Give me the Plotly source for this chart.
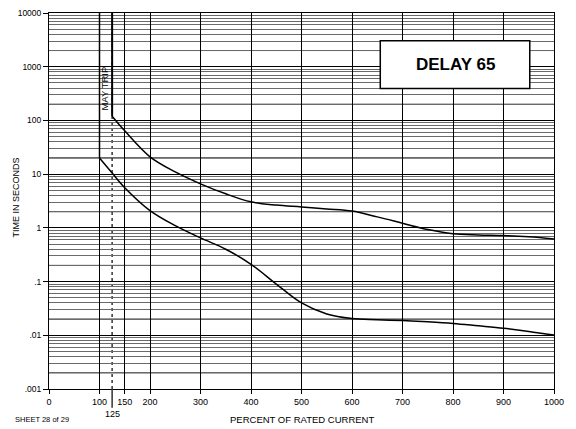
import plotly.graph_objects as go

# ---- data ----
upper_x = [125, 150, 200, 250, 300, 350, 400, 450, 500, 550, 600, 650, 700, 750, 800, 850, 900, 950, 1000]
upper_y = [120, 64, 21, 11, 6.6, 4.3, 3.05, 2.65, 2.45, 2.25, 2.05, 1.6, 1.22, 0.93, 0.78, 0.74, 0.72, 0.68, 0.62]
lower_x = [100, 125, 150, 200, 250, 300, 350, 400, 450, 500, 550, 600, 650, 700, 750, 800, 850, 900, 950, 1000]
lower_y = [20, 10.5, 5.6, 2.1, 1.1, 0.65, 0.4, 0.21, 0.09, 0.04, 0.025, 0.0205, 0.0195, 0.0188, 0.0178, 0.0166, 0.015, 0.0135, 0.0118, 0.0101]

x_tickvals = [0, 100, 150, 200, 300, 400, 500, 600, 700, 800, 900, 1000]
x_ticktext = ["0", "100", "150", "200", "300", "400", "500", "600", "700", "800", "900", "1000"]
special_x = 125
y_tickvals = [0.001, 0.01, 0.1, 1, 10, 100, 1000, 10000]
y_ticktext = [".001", ".01", ".1", "1", "10", "100", "1000", "10000"]
y_minor = [m * d for d in [0.001, 0.01, 0.1, 1, 10, 100, 1000] for m in range(2, 10)]
y_bold = [2 * d for d in [0.001, 0.01, 0.1, 1, 10, 100, 1000]]
y_top = 10000

FONT = "Liberation Sans, Arial, sans-serif"

fig = go.Figure()

# vertical portions of the curves
fig.add_trace(go.Scatter(x=[upper_x[0], upper_x[0]], y=[y_top, upper_y[0]], mode="lines",
                         line=dict(color="black", width=2), showlegend=False, hoverinfo="skip"))
fig.add_trace(go.Scatter(x=[lower_x[0], lower_x[0]], y=[y_top, lower_y[0]], mode="lines",
                         line=dict(color="black", width=1.5), showlegend=False, hoverinfo="skip"))
# curves
fig.add_trace(go.Scatter(x=upper_x, y=upper_y, mode="lines",
                         line=dict(color="black", width=1.5, shape="spline", smoothing=1),
                         showlegend=False))
fig.add_trace(go.Scatter(x=lower_x, y=lower_y, mode="lines",
                         line=dict(color="black", width=1.5, shape="spline", smoothing=1),
                         showlegend=False))

shapes = []
# bold 2x horizontal grid lines
for v in y_bold:
    shapes.append(dict(type="line", xref="paper", yref="y", x0=0, x1=1, y0=v, y1=v,
                       line=dict(color="black", width=1), layer="below"))
# 125 grid line (dotted) and long tick
shapes.append(dict(type="line", xref="x", yref="paper", x0=special_x, x1=special_x, y0=0, y1=1,
                   line=dict(color="#333", width=1.5, dash="dot"), layer="below"))
shapes.append(dict(type="line", xref="x", yref="paper", x0=special_x, x1=special_x, y0=0, y1=-0.05,
                   line=dict(color="#333", width=1.5)))
# label box
shapes.append(dict(type="rect", xref="paper", yref="paper", x0=0.656, x1=0.952, y0=0.799, y1=0.926,
                   line=dict(color="black", width=1.5), fillcolor="white", layer="above"))

annotations = [
    dict(text="<b>DELAY 65</b>", xref="paper", yref="paper", x=0.804, y=0.863, showarrow=False,
         font=dict(family=FONT, size=17, color="black"), xanchor="center", yanchor="middle"),
    dict(text="MAY TRIP", xref="x", yref="paper", x=special_x, y=0.798, showarrow=False,
         textangle=-90, xanchor="right", yanchor="middle", xshift=0,
         font=dict(family=FONT, size=9.5, color="black")),
    dict(text=str(special_x), xref="x", yref="paper", x=special_x, y=-0.066, showarrow=False,
         xanchor="center", yanchor="middle", font=dict(family=FONT, size=9, color="black")),
    dict(text="PERCENT OF RATED CURRENT", xref="paper", yref="paper", x=0.5, y=-0.082,
         showarrow=False, xanchor="center", yanchor="middle",
         font=dict(family=FONT, size=9.5, color="black")),
    dict(text="SHEET 28 of 29", xref="paper", yref="paper", x=-0.0712, y=-0.082,
         showarrow=False, xanchor="left", yanchor="middle",
         font=dict(family=FONT, size=7.5, color="black")),
    dict(text="TIME IN SECONDS", xref="paper", yref="paper", x=-0.065, y=0.51,
         showarrow=False, textangle=-90, xanchor="center", yanchor="middle",
         font=dict(family=FONT, size=9, color="black")),
]

fig.update_layout(
    width=576, height=429,
    margin=dict(l=49, r=22, t=13, b=40, autoexpand=False),
    paper_bgcolor="white", plot_bgcolor="white",
    font=dict(family=FONT, color="black"),
    shapes=shapes, annotations=annotations,
    xaxis=dict(range=[0, 1000], tickvals=x_tickvals, ticktext=x_ticktext,
               ticks="outside", ticklen=4, tickcolor="black",
               showgrid=True, gridcolor="black", gridwidth=1,
               showline=True, linecolor="black", linewidth=1, mirror=True,
               zeroline=False, tickfont=dict(size=9, family=FONT)),
    yaxis=dict(type="log", range=[-3, 4], tickvals=y_tickvals, ticktext=y_ticktext,
               ticks="outside", ticklen=5, tickcolor="black",
               showgrid=True, gridcolor="black", gridwidth=1,
               minor=dict(tickvals=y_minor, showgrid=True, gridcolor="#6a6a6a", gridwidth=1, ticks=""),
               showline=True, linecolor="black", linewidth=1, mirror=True,
               zeroline=False, tickfont=dict(size=8.5, family=FONT)),
)

fig.write_html("out.html", config={"displayModeBar": False},
               post_script="document.body.style.margin='0';document.body.style.overflow='hidden';")
